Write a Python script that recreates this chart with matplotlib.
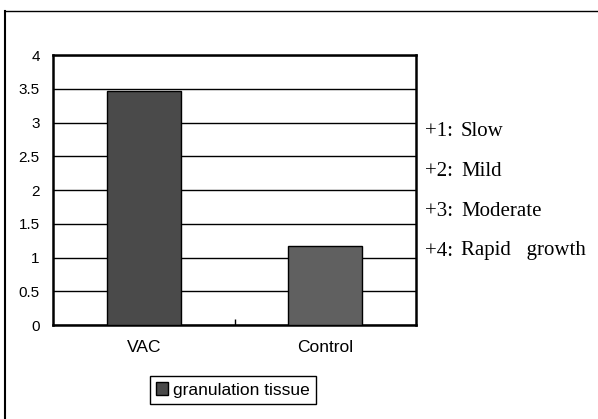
import numpy as np
import matplotlib.pyplot as plt
from matplotlib.lines import Line2D

# data
groups = ["VAC", "Control"]
granulation = [3.47, 1.17]
bar_colors = ["#4a4a4a", "#606060"]
y_ticks = [0, 0.5, 1, 1.5, 2, 2.5, 3, 3.5, 4]
y_tick_labels = ["0", "0.5", "1", "1.5", "2", "2.5", "3", "3.5", "4"]
scale_codes = ["+1:", "+2:", "+3:", "+4:"]
scale_words = ["Slow", "Mild", "Moderate", "Rapid   growth"]

fig = plt.figure(figsize=(5.98, 4.19), dpi=100)
ax = fig.add_axes([53 / 598, 1 - 325 / 419, 363 / 598, 270 / 419])

x = np.arange(len(groups))
bars = ax.bar(x, granulation, width=0.41, color=bar_colors, edgecolor="black",
              linewidth=1, zorder=3, label="granulation tissue")

ax.set_xlim(-0.5, 1.5)
ax.set_ylim(0, 4)
ax.set_yticks(y_ticks)
ax.set_yticklabels(y_tick_labels, fontsize=11, family="Liberation Sans")
ax.set_xticks(x)
ax.set_xticklabels(groups, fontsize=12.5, family="Liberation Sans")
ax.tick_params(axis="both", length=0)
ax.tick_params(axis="x", pad=10.5)
ax.tick_params(axis="y", pad=9.5)
ax.set_xticks([0.5], minor=True)
ax.tick_params(axis="x", which="minor", direction="in", length=4, width=1)

ax.grid(axis="y", color="black", linewidth=1, zorder=0)
for s in ax.spines.values():
    s.set_linewidth(1.8)

# the rating scale beside the plot
for i in range(len(scale_codes)):
    yy = 1 - (131 + 40 * i) / 419
    fig.text(425 / 598, yy, scale_codes[i], fontsize=15,
             family="Liberation Serif", va="center", ha="left")
    fig.text(461 / 598, yy, scale_words[i], fontsize=15,
             family="Liberation Serif", va="center", ha="left")

leg = fig.legend(handles=[bars[0]], labels=["granulation tissue"],
                 loc="center", bbox_to_anchor=(233 / 598, 1 - 390 / 419),
                 prop={"family": "Liberation Sans", "size": 12.5},
                 fancybox=False, edgecolor="black", framealpha=1,
                 handlelength=0.7, handleheight=0.7, handletextpad=0.3,
                 borderpad=0.35, borderaxespad=0)
leg.get_frame().set_linewidth(1)

# outer frame of the scanned figure (top and left edges only)
fig.add_artist(Line2D([5 / 598, 1], [1 - 11 / 419, 1 - 11 / 419],
                      transform=fig.transFigure, color="black", linewidth=1))
fig.add_artist(Line2D([5 / 598, 5 / 598], [0, 1 - 11 / 419],
                      transform=fig.transFigure, color="black", linewidth=1.5))

fig.savefig("out.png", dpi=100)
